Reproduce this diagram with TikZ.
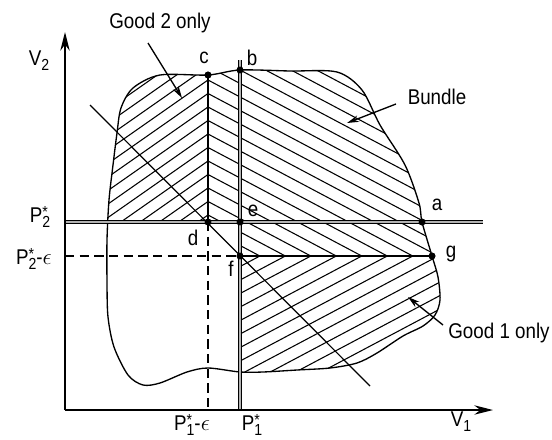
\documentclass[tikz,border=0pt]{standalone}
\usepackage{fontspec}
\usetikzlibrary{arrows.meta}
\newfontfamily\lab[FakeStretch=0.88]{Liberation Sans}
\newcommand\smallsz{\fontsize{12}{13}\selectfont}
\newcommand\mysupsub[2]{\makebox[0pt][l]{\raisebox{3.2pt}{\smallsz #1}}\raisebox{-3.8pt}{\smallsz #2}}
\newcommand\mysub[1]{\raisebox{-3.8pt}{\smallsz #1}}
\def\bundle{plot[smooth cycle,tension=0.5] coordinates {(160,75) (208,75) (240,70) (290,71) (337,72) (362,90) (380,125) (405,165) (419,203) (422,222) (432,256) (438,277) (440,300) (435,315) (423,326) (403,336) (377,353) (357,363) (330,368) (297,370) (263,372) (240,372) (208,368) (187,372) (160,383) (143,385) (128,375) (114,347) (108,317) (107,283) (107,240) (109,200) (113,165) (117,133) (121,108) (133,88)}}
\begin{document}
\begin{tikzpicture}[x=0.75pt,y=-0.75pt,
  font=\lab\fontsize{16}{18}\selectfont,
  axis/.style={line width=1.3pt,-{Stealth[length=14pt,width=7pt]}},
  dbl/.style={line width=0.6pt,double=gray!60,double distance=1.6pt},
  outline/.style={line width=1pt},
  hatch/.style={line width=0.8pt},
  dot/.style={circle,fill,inner sep=0pt,minimum size=5pt},
  dashline/.style={line width=0.9pt,dash pattern=on 7pt off 4pt},
  solidline/.style={line width=0.9pt},
  pointer/.style={line width=1pt,-{Stealth[length=9pt,width=5pt]}},
  lbl/.style={inner sep=0pt}]
\useasboundingbox (0,0) rectangle (552,439);

% hatching: Good 2 only
\begin{scope}
  \clip \bundle;
  \clip (0,0) rectangle (208,222);
  \foreach \k in {-6,...,12} {
    \pgfmathsetmacro\yk{80+13.5*\k}
    \draw[hatch] (208,\yk) -- (48,{\yk+0.70*160});
  }
\end{scope}
% hatching: bundle (down-right)
\begin{scope}
  \clip \bundle;
  \clip (208,0) -- (552,0) -- (552,256) -- (240,256) -- (240,222) -- (208,222) -- cycle;
  \foreach \k in {-12,...,14} {
    \pgfmathsetmacro\yk{80+13.5*\k}
    \draw[hatch] (208,\yk) -- (470,{\yk+0.53*262});
  }
\end{scope}
% hatching: Good 1 only
\begin{scope}
  \clip \bundle;
  \clip (240,256) rectangle (552,439);
  \foreach \k in {-7,...,13} {
    \pgfmathsetmacro\xk{540.08-25.47*\k}
    \draw[hatch] (\xk,256) -- ({\xk-300},{256+0.53*300});
  }
\end{scope}

% outline
\draw[outline] \bundle;

% coordinates
\coordinate (O) at (65,410);
\coordinate (ytip) at (65,32);
\coordinate (xtip) at (493,410);
\coordinate (p2L) at (65,222);
\coordinate (p2R) at (483,222);
\coordinate (p1T) at (240,60);
\coordinate (p1B) at (240,410);
\coordinate (p2eL) at (65,256);
\coordinate (p1eB) at (208,410);
\coordinate (diagA) at (90,105);
\coordinate (diagB) at (370,386);

\node[dot] (c) at (208,75) {};
\node[dot] (b) at (240,70) {};
\node[dot] (a) at (422,222) {};
\node[dot] (g) at (432,256) {};
\node[dot] (d) at (208,222) {};
\node[dot] (e) at (240,222) {};
\node[dot] (f) at (240,256) {};

% dashed and solid epsilon lines
\draw[dashline] (p2eL) -- (f.center);
\draw[solidline] (f.center) -- (g.center);
\draw[dashline] (d.center) -- (p1eB);
\draw[solidline] (c.center) -- (d.center);

% diagonal
\draw[line width=0.9pt] (diagA) -- (diagB);

% price lines
\draw[dbl] (p2L) -- (p2R);
\draw[dbl] (p1T) -- (p1B);

% axes
\draw[axis] (O) -- (ytip);
\draw[axis] (O) -- (xtip);

% redraw dots on top
\foreach \n in {a,b,c,d,e,f,g} \fill (\n) circle[radius=2.6pt];

% point labels
\node[lbl] (lc) at (204,58) {c};
\node[lbl] (lb) at (252,58) {b};
\node[lbl] (la) at (437,205) {a};
\node[lbl] (lg) at (451,254) {g};
\node[lbl] (le) at (253,211) {e};
\node[lbl] (ld) at (193,238) {d};
\node[lbl] (lf) at (231,269) {f};

% axis labels
\node[lbl] (v2) at (39,61) {V\mysub{2}};
\node[lbl] (v1) at (461,422) {V\mysub{1}};
\node[lbl] (p2) at (40,217) {P\mysupsub{*}{2}};
\node[lbl] (p2e) at (34,259) {P\mysupsub{*}{2}-$\epsilon$};
\node[lbl] (p1e) at (192,425) {P\mysupsub{*}{1}-$\epsilon$};
\node[lbl] (p1) at (252,425) {P\mysupsub{*}{1}};

% annotations
\node[lbl] (g2lab) at (160,23) {Good 2 only};
\node[lbl] (blab) at (437,97) {Bundle};
\node[lbl] (g1lab) at (499,333) {Good 1 only};
\coordinate (g2s) at (148,43);
\coordinate (g2e) at (182,98);
\coordinate (bs) at (396,104);
\coordinate (be) at (347,123);
\coordinate (g1s) at (443,325);
\coordinate (g1e) at (408,297);
\draw[pointer] (g2s) -- (g2e);
\draw[pointer] (bs) -- (be);
\draw[pointer] (g1s) -- (g1e);
\end{tikzpicture}
\end{document}
